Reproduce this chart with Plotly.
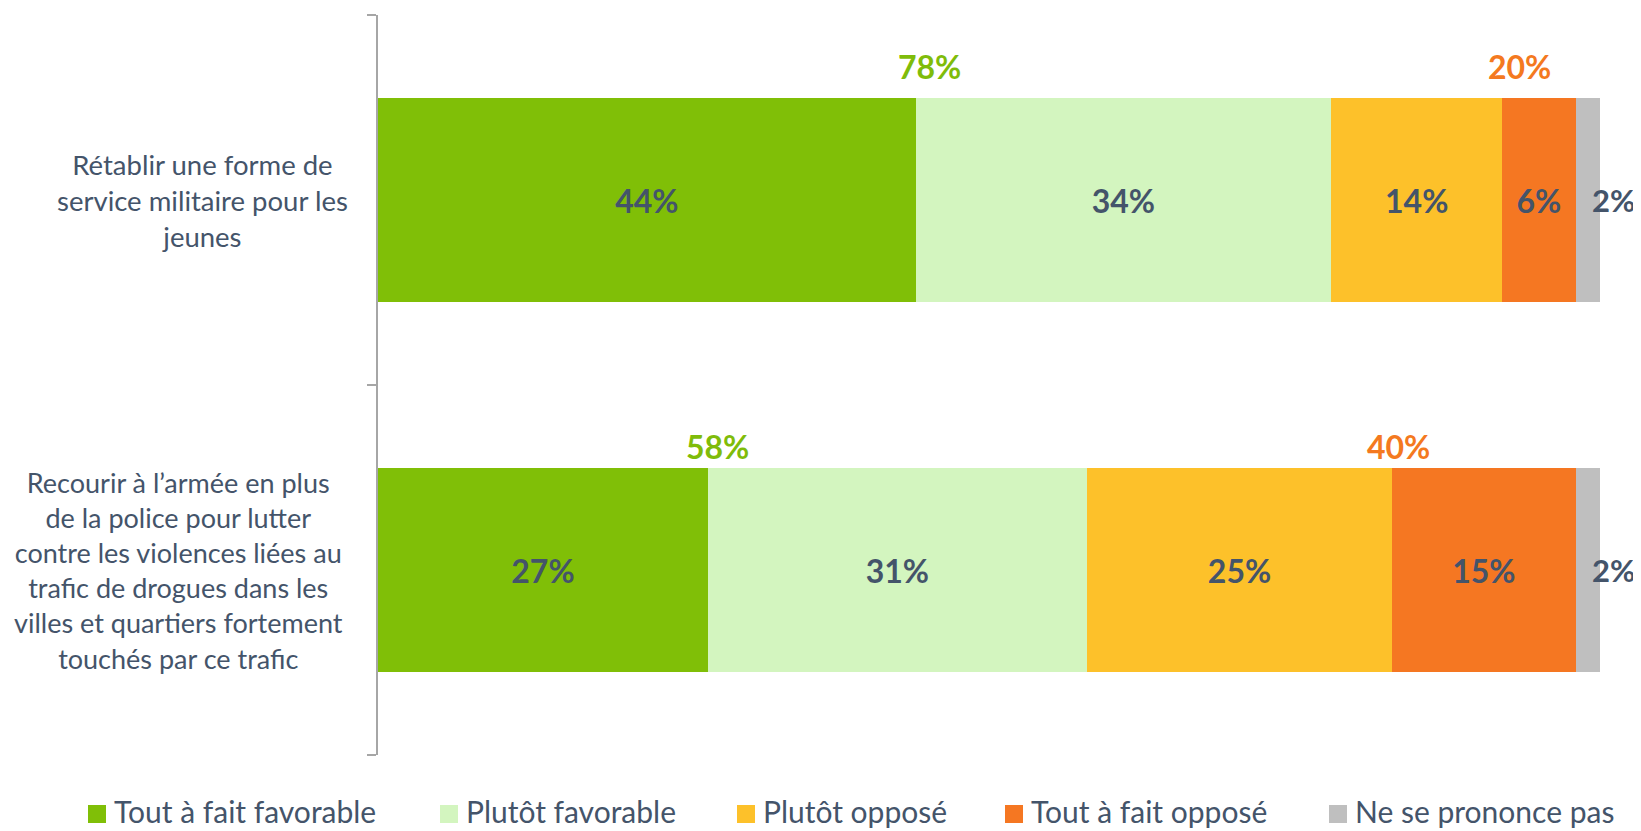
import plotly.graph_objects as go

# ---- data ----
categories = [
    "Rétablir une forme de<br>service militaire pour les<br>jeunes",
    "Recourir à l’armée en plus<br>de la police pour lutter<br>contre les violences liées au<br>trafic de drogues dans les<br>villes et quartiers fortement<br>touchés par ce trafic",
]
series_names = ["Tout à fait favorable", "Plutôt favorable", "Plutôt opposé",
                "Tout à fait opposé", "Ne se prononce pas"]
tout_favorable = [44, 27]
plutot_favorable = [34, 31]
plutot_oppose = [14, 25]
tout_oppose = [6, 15]
nspp = [2, 2]
total_favorable = [78, 58]
total_oppose = [20, 40]

# ---- styles / positions ----
colors = ["#80BF07", "#D3F5BF", "#FDC12A", "#F57722", "#BFBFBF"]
label_color = "#44546A"
fav_color = "#7FBC0A"
opp_color = "#F47920"
FONT = "Lato"
OFF = 8  # page body margin
W, H = 1641 - OFF, 831 - OFF
ML, MR, MT, MB = 378 - OFF, 41, 15 - OFF, 76
PW, PH = W - ML - MR, H - MT - MB

def px2x(p):
    # p in page pixels
    return (p - OFF - ML) / PW

def py2y(p):
    return (H - MB - (p - OFF)) / PH

fav_label_x = [45.1, 27.8]
opp_label_x = [93.4, 83.5]
total_label_dy = [-0.362, -0.335]
cat_label_shift = [-28, -33]
cat_label_size = [27.5, 27]
legend_px = [88, 440, 737, 1005, 1329]

ypos = list(range(len(categories)))
all_series = [tout_favorable, plutot_favorable, plutot_oppose, tout_oppose, nspp]

fig = go.Figure()
for name, vals, col in zip(series_names, all_series, colors):
    is_last = name == series_names[-1]
    fig.add_trace(go.Bar(
        y=ypos, x=vals, orientation="h", name=name,
        marker=dict(color=col, line=dict(width=0)),
        width=0.55,
        text=[f"{v}%" for v in vals],
        textposition="none" if is_last else "inside",
        insidetextanchor="middle",
        textfont=dict(family=FONT, size=32, color=label_color, weight="bold"),
        showlegend=False, hoverinfo="x+name",
    ))

annotations = []
# category labels
for i, cat in enumerate(categories):
    annotations.append(dict(
        x=0, xref="paper", y=i, yref="y", xanchor="right", yanchor="middle",
        xshift=cat_label_shift[i], align="center", text=cat, showarrow=False,
        font=dict(family=FONT, size=cat_label_size[i], color=label_color),
    ))
# NSPP labels to the right of bars
for i in ypos:
    tot = sum(s[i] for s in all_series)
    annotations.append(dict(
        x=tot, y=i, xref="x", yref="y", xshift=13, text=f"{nspp[i]}%",
        showarrow=False, xanchor="center", yanchor="middle",
        font=dict(family=FONT, size=31, color=label_color, weight="bold"),
    ))
# totals
for i in ypos:
    annotations.append(dict(
        x=fav_label_x[i], y=i + total_label_dy[i], xref="x", yref="y",
        text=f"{total_favorable[i]}%", showarrow=False,
        font=dict(family=FONT, size=32, color=fav_color, weight="bold"),
    ))
    annotations.append(dict(
        x=opp_label_x[i], y=i + total_label_dy[i], xref="x", yref="y",
        text=f"{total_oppose[i]}%", showarrow=False,
        font=dict(family=FONT, size=32, color=opp_color, weight="bold"),
    ))

# manual legend
shapes = []
for name, col, lx in zip(series_names, colors, legend_px):
    shapes.append(dict(
        type="rect", xref="paper", yref="paper",
        x0=px2x(lx), x1=px2x(lx + 18), y0=py2y(823), y1=py2y(805),
        fillcolor=col, line=dict(width=0),
    ))
    annotations.append(dict(
        x=px2x(lx + 24), y=py2y(811), xref="paper", yref="paper",
        xanchor="left", yanchor="middle", text=name, showarrow=False,
        font=dict(family=FONT, size=30, color=label_color),
    ))

fig.update_layout(
    barmode="stack",
    width=W, height=H, autosize=False,
    margin=dict(l=ML, r=MR, t=MT, b=MB, pad=0),
    paper_bgcolor="white", plot_bgcolor="white",
    xaxis=dict(range=[0, 100], visible=False, fixedrange=True),
    yaxis=dict(
        range=[1.5, -0.5], tickvals=[-0.5, 0.5, 1.5], ticktext=["", "", ""],
        ticks="outside", ticklen=9, tickwidth=1.5, tickcolor="#A6A6A6",
        showline=True, linecolor="#A6A6A6", linewidth=1.5,
        showgrid=False, zeroline=False, showticklabels=False,
    ),
    annotations=annotations,
    shapes=shapes,
    uniformtext=dict(mode=False),
)

fig.write_html("out.html")
